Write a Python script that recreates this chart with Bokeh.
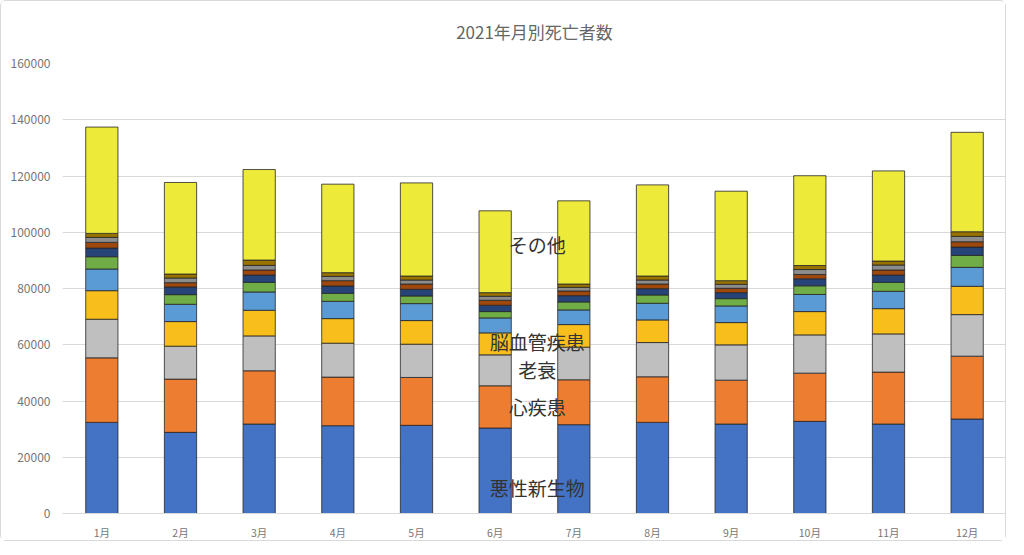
from bokeh.plotting import figure
from bokeh.models import ColumnDataSource, FactorRange, Range1d, NumeralTickFormatter, FixedTicker, Title
from bokeh.core.properties import value
from bokeh.embed import file_html
from bokeh.resources import INLINE

title_text = "2021年月別死亡者数"
months = ["1月", "2月", "3月", "4月", "5月", "6月", "7月", "8月", "9月", "10月", "11月", "12月"]

cancer    = [32400, 28850, 31810, 31220, 31340, 30400, 31580, 32400, 31810, 32760, 31810, 33590]
heart     = [22950, 18930, 18930, 17270, 17030, 15010, 15960, 16210, 15610, 17150, 18460, 22350]
senility  = [13720, 11710, 12410, 12060, 11830, 11000, 11600, 12170, 12540, 13600, 13590, 14780]
stroke    = [10160,  8750,  9110,  8750,  8400,  7810,  8030,  8050,  7920,  8280,  8980, 10060]
pneumonia = [ 7700,  6150,  6510,  6150,  6030,  5320,  5210,  5910,  5920,  6090,  6170,  6740]
aspiration= [ 4370,  3430,  3430,  2840,  2720,  2250,  2840,  2960,  2600,  3080,  3190,  4260]
accident  = [ 3080,  2720,  2600,  2600,  2360,  2250,  2240,  2240,  2130,  2480,  2600,  2950]
renal     = [ 2020,  1530,  1770,  1890,  1890,  1770,  1660,  1660,  1540,  1540,  1770,  1890]
alzheimer = [ 1770,  1660,  1660,  1540,  1420,  1420,  1300,  1420,  1420,  1770,  1780,  1900]
dementia  = [ 1430,  1420,  1890,  1310,  1420,  1300,  1180,  1420,  1290,  1420,  1410,  1650]
other     = [37800, 32550, 32180, 31470, 33110, 29090, 29570, 32400, 31820, 31930, 32050, 35360]

series_names = ["悪性新生物", "心疾患", "老衰", "脳血管疾患", "肺炎", "誤嚥性肺炎",
                "不慮の事故", "腎不全", "アルツハイマー病", "血管性等の認知症", "その他"]
series_values = [cancer, heart, senility, stroke, pneumonia, aspiration,
                 accident, renal, alzheimer, dementia, other]
colors = ["#4472C4", "#ED7D31", "#BFBFBF", "#F7BE1C", "#5B9BD5", "#70AD47",
          "#264478", "#9E480E", "#8C8C8C", "#997300", "#EEEA3A"]

label_texts = ["悪性新生物", "心疾患", "老衰", "脳血管疾患", "その他"]
label_y = [9200, 38000, 51100, 61000, 95800]

data = {"month": months}
for name, vals in zip(series_names, series_values):
    data[name] = vals
source = ColumnDataSource(data)

FONT = "Noto Sans CJK JP"

p = figure(x_range=FactorRange(*months), y_range=Range1d(0, 160000),
           width=1006, height=541, output_backend="svg", toolbar_location=None)
p.styles = {"border": "1px solid #d9d9d9", "border-radius": "6px"}
p.min_border_left = 61
p.min_border_right = 1
p.min_border_top = 62
p.min_border_bottom = 20
p.outline_line_color = None

spacer = Title(text=" ", text_font=FONT, text_font_size="9px", standoff=0)
p.add_layout(spacer, "above")
main_title = Title(text=title_text, align="center", text_font=FONT,
                   text_font_size="17px", text_font_style="normal",
                   text_color="#666666", standoff=10)
p.add_layout(main_title, "above")

p.vbar_stack(series_names, x="month", width=0.41, color=colors, source=source,
             line_color="#262626", line_width=0.8)

p.text(x=["6月"] * len(label_texts), y=label_y, text=label_texts,
       x_offset=42, text_align="center", text_baseline="middle",
       text_font=value(FONT), text_font_size="19px", text_color="#333333")

p.xgrid.grid_line_color = None
p.ygrid.grid_line_color = "#d9d9d9"
p.ygrid.grid_line_width = 1

p.yaxis.ticker = FixedTicker(ticks=list(range(0, 160001, 20000)))
p.yaxis.formatter = NumeralTickFormatter(format="0")
p.yaxis.axis_line_color = None
p.yaxis.major_tick_line_color = None
p.yaxis.minor_tick_line_color = None
p.yaxis.major_label_text_font = FONT
p.yaxis.major_label_text_font_size = "12px"
p.yaxis.major_label_text_color = "#767676"
p.yaxis.major_label_standoff = 6

p.xaxis.axis_line_color = "#d9d9d9"
p.xaxis.major_tick_line_color = None
p.xaxis.minor_tick_line_color = None
p.xaxis.major_label_text_font = FONT
p.xaxis.major_label_text_font_size = "10.5px"
p.xaxis.major_label_text_color = "#767676"
p.xaxis.major_label_standoff = 5

open("out.html", "w").write(file_html(p, INLINE))
